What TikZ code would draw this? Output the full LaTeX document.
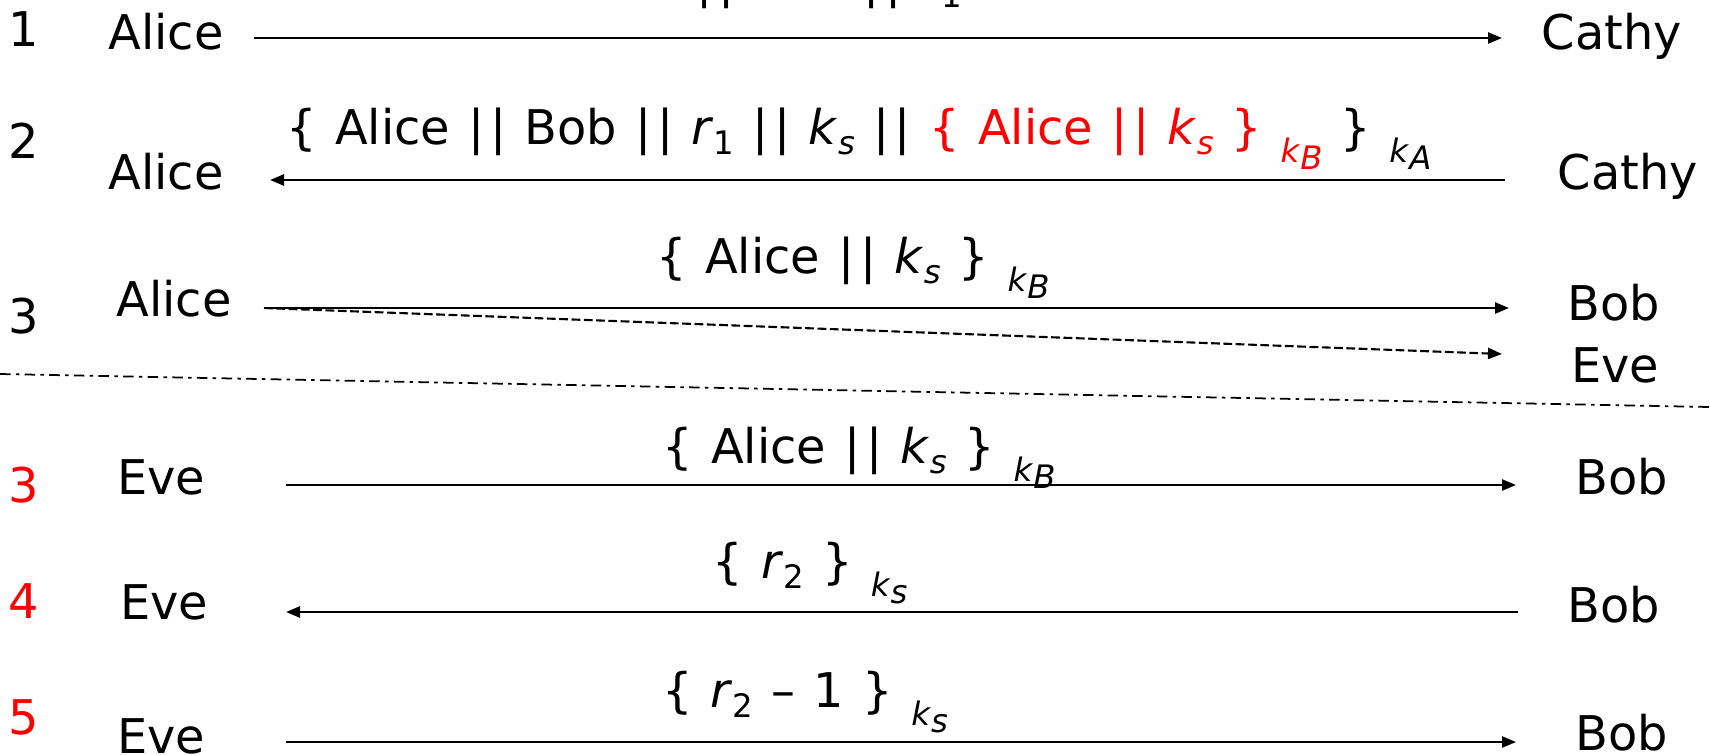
\documentclass[tikz,border=0pt]{standalone}
\usepackage{fontspec}
\setmainfont[WordSpace=1.2]{DejaVu Sans}
\usepackage{xcolor}
\usetikzlibrary{arrows.meta}

% subscripts, keys and concatenation bars
\newcommand{\sbs}[2]{#1\raisebox{-0.4ex}{\fontsize{9.2}{10}\selectfont #2}}
\newcommand{\key}[1]{ \raisebox{-0.7ex}{\fontsize{9.2}{10}\selectfont\textit{k}\raisebox{-0.4ex}{\textit{#1}}}}
\newcommand{\ks}{\sbs{\textit{k}}{\textit{s}}}
\newcommand{\cat}{|\kern0.12em|}

\begin{document}
\begin{tikzpicture}[x=0.01cm, y=-0.01cm,
    msg/.style={-{Triangle[length=1.4mm, width=1.1mm]}, line width=0.7pt},
    txt/.style={anchor=base, inner sep=0pt, font=\fontsize{13.6}{16}\selectfont},
    stepno/.style={txt},
    redno/.style={txt, text=red}]
    \useasboundingbox (0,0) rectangle (1710,754);

    % Step 1
    \node[stepno] (n1) at (24,46) {1};
    \node[txt] (alice1) at (166,49) {Alice};
    \node[txt] (cathy1) at (1612,49) {Cathy};
    \coordinate (s1) at (254,38);
    \coordinate (e1) at (1502,38);
    \draw[msg] (s1) -- (e1);
    \node[txt] (m1) at (763,-3) {Alice \cat{} Bob \cat{} \sbs{\textit{r}}{1}};

    % Step 2
    \node[stepno] (n2) at (24,158) {2};
    \node[txt] (alice2) at (166,189) {Alice};
    \node[txt] (cathy2) at (1628,189) {Cathy};
    \coordinate (s2) at (1505,180);
    \coordinate (e2) at (270,180);
    \draw[msg] (s2) -- (e2);
    \node[txt] (m2) at (859,144) {\{ Alice \cat{} Bob \cat{} \sbs{\textit{r}}{1} \cat{} \ks{} \cat{} \textcolor{red}{\{ Alice \cat{} \ks{} \}\key{B}} \}\key{A}};

    % Step 3
    \node[stepno] (n3) at (24,333) {3};
    \node[txt] (alice3) at (174,316) {Alice};
    \node[txt] (bob3) at (1614,320) {Bob};
    \node[txt] (eve3) at (1615,382) {Eve};
    \coordinate (s3) at (264,308);
    \coordinate (e3) at (1509,308);
    \coordinate (f3) at (1502,354);
    \draw[msg] (s3) -- (e3);
    \draw[msg, line width=0.6pt, dash pattern=on 2.5pt off 1pt] (s3) -- (f3);
    \node[txt] (m3) at (853,273) {\{ Alice \cat{} \ks{} \}\key{B}};

    % Separator
    \draw[line width=0.5pt, dash pattern=on 3pt off 1.5pt on 1pt off 1.5pt] (0,374) -- (1710,407);

    % Step 3 (Eve)
    \node[redno] (r3) at (24,502) {3};
    \node[txt] (eve4) at (161,494) {Eve};
    \node[txt] (bob4) at (1622,494) {Bob};
    \coordinate (s4) at (286,485);
    \coordinate (e4) at (1516,485);
    \draw[msg] (s4) -- (e4);
    \node[txt] (m4) at (859,463) {\{ Alice \cat{} \ks{} \}\key{B}};

    % Step 4
    \node[redno] (r4) at (24,618) {4};
    \node[txt] (eve5) at (164,619) {Eve};
    \node[txt] (bob5) at (1614,622) {Bob};
    \coordinate (s5) at (1518,612);
    \coordinate (e5) at (286,612);
    \draw[msg] (s5) -- (e5);
    \node[txt] (m5) at (810,578) {\{ \sbs{\textit{r}}{2} \}\key{s}};

    % Step 5
    \node[redno] (r5) at (24,734) {5};
    \node[txt] (eve6) at (161,753) {Eve};
    \node[txt] (bob6) at (1622,750) {Bob};
    \coordinate (s6) at (286,742);
    \coordinate (e6) at (1516,742);
    \draw[msg] (s6) -- (e6);
    \node[txt] (m6) at (805,707) {\{ \sbs{\textit{r}}{2} -- 1 \}\key{s}};
\end{tikzpicture}
\end{document}
